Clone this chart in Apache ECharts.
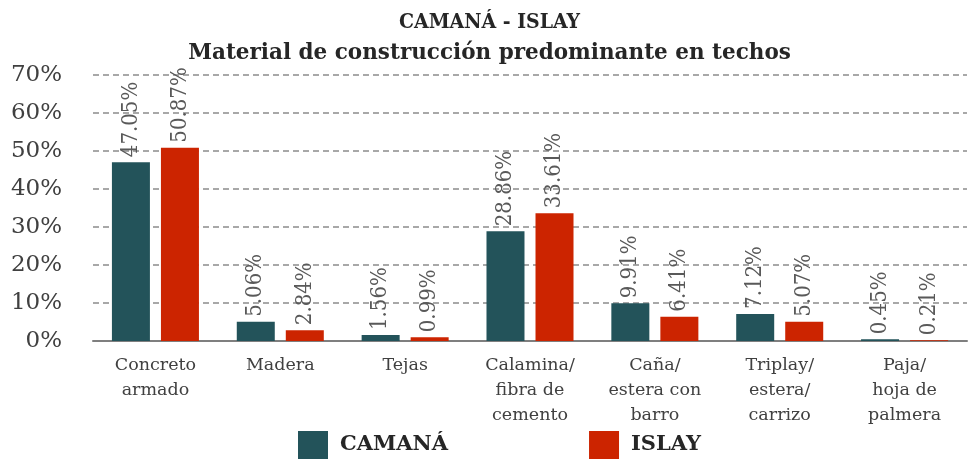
<!DOCTYPE html>
<html>
<head>
<meta charset="utf-8">
<script src="https://cdn.jsdelivr.net/npm/echarts@6/dist/echarts.min.js"></script>
<style>html,body{margin:0;padding:0;background:#fff}#c{width:979px;height:459px}</style>
</head>
<body>
<div id="c"></div>
<script>
const categories = ["Concreto\narmado", "Madera", "Tejas", "Calamina/\nfibra de\ncemento", "Caña/\nestera con\nbarro", "Triplay/\nestera/\ncarrizo", "Paja/\nhoja de\npalmera"];
const camana = [47.05, 5.06, 1.56, 28.86, 9.91, 7.12, 0.45];
const islay = [50.87, 2.84, 0.99, 33.61, 6.41, 5.07, 0.21];
const yTicks = { min: 0, max: 70, interval: 10 };

const serif = "DejaVu Serif";
const chart = echarts.init(document.getElementById('c'));
const lbl = {
  show: true, position: 'top', rotate: 90, align: 'left', verticalAlign: 'middle', distance: 5,
  fontFamily: "DejaVu Serif Condensed", fontSize: 22, color: '#595959',
  formatter: p => p.value.toFixed(2) + '%'
};
chart.setOption({
  animation: false,
  title: [
    { text: 'CAMANÁ - ISLAY', left: 'center', top: 7,
      textStyle: { fontFamily: "DejaVu Serif Condensed", fontWeight: 'bold', fontSize: 21, color: '#262626' } },
    { text: 'Material de construcción predominante en techos', left: 'center', top: 37,
      textStyle: { fontFamily: serif, fontWeight: 'bold', fontSize: 21.5, color: '#262626' } }
  ],
  legend: {
    top: 426, left: 293, itemWidth: 30, itemHeight: 28, itemGap: 141, icon: 'rect',
    textStyle: { fontFamily: serif, fontWeight: 'bold', fontSize: 21, color: '#262626', padding: [0, 0, 0, 7] },
    data: ['CAMANÁ', 'ISLAY']
  },
  grid: { left: 93, right: 12, top: 75, bottom: 118 },
  xAxis: {
    type: 'category', data: categories,
    axisTick: { show: false },
    axisLine: { lineStyle: { color: '#7f7f7f', width: 2 } },
    axisLabel: { fontFamily: serif, fontSize: 17.5, color: '#404040', lineHeight: 25, margin: 12, interval: 0 }
  },
  yAxis: {
    type: 'value', min: yTicks.min, max: yTicks.max, interval: yTicks.interval,
    axisLabel: { formatter: '{value}%', fontFamily: serif, fontSize: 23, color: '#404040', margin: 31 },
    splitLine: { lineStyle: { type: [6, 4], color: '#8c8c8c', width: 1.5 } },
    axisLine: { show: false }, axisTick: { show: false }
  },
  series: [
    { name: 'CAMANÁ', type: 'bar', data: camana, barWidth: 38, barGap: '29%', itemStyle: { color: '#23535A' }, label: lbl },
    { name: 'ISLAY', type: 'bar', data: islay, barWidth: 38, itemStyle: { color: '#CC2400' }, label: lbl }
  ]
});
</script>
</body>
</html>
